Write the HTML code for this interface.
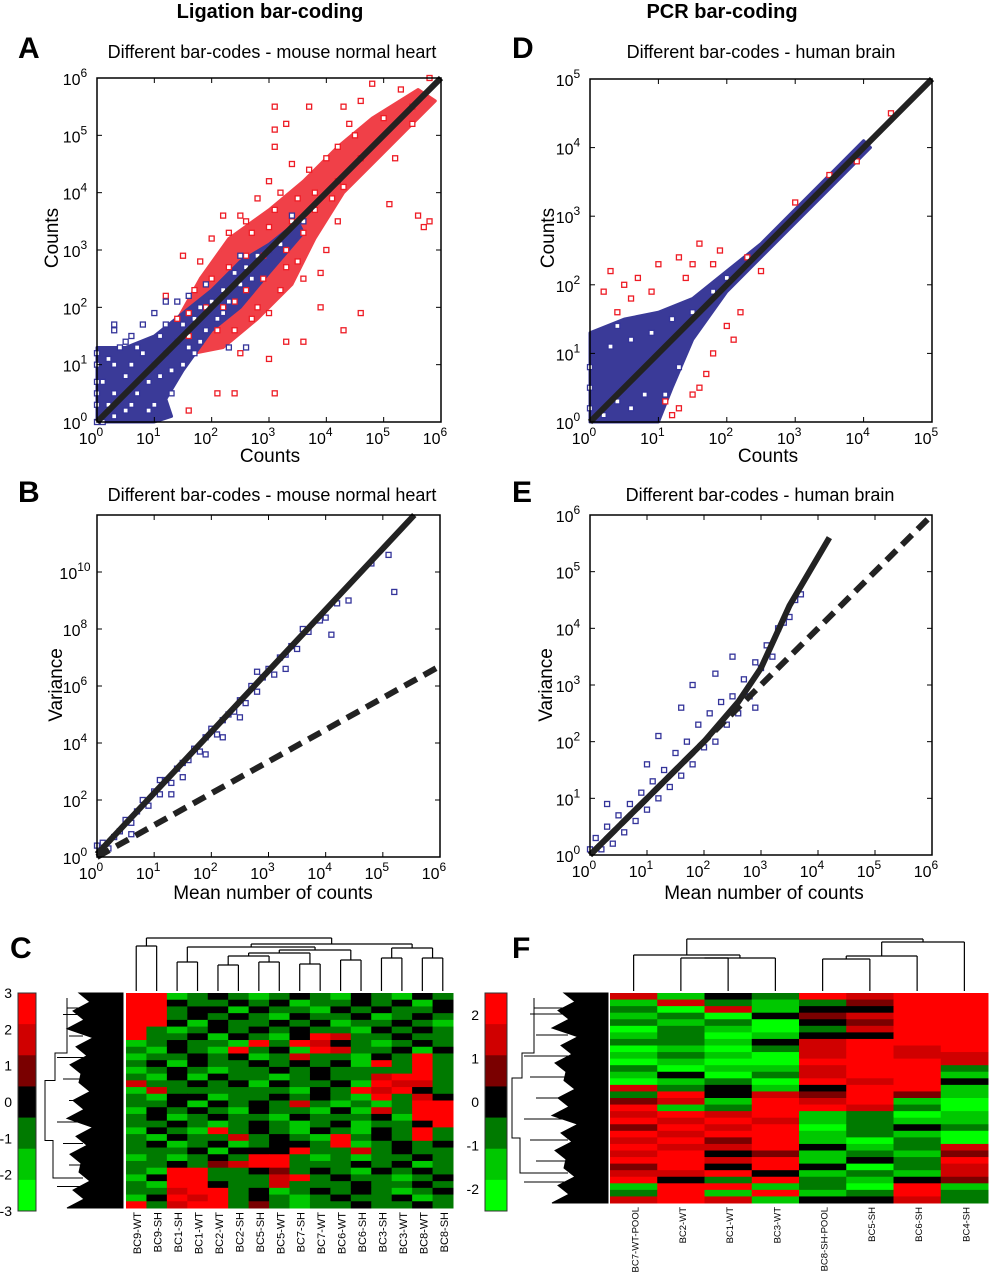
<!DOCTYPE html>
<html><head><meta charset="utf-8"><style>
html,body{margin:0;padding:0;background:#fff;}
svg{display:block;font-family:"Liberation Sans",sans-serif;}
</style></head><body>
<svg id="fig" width="989" height="1280" viewBox="0 0 989 1280" xmlns="http://www.w3.org/2000/svg">
<text x="270" y="18" font-size="20" font-weight="bold" text-anchor="middle">Ligation bar-coding</text>
<text x="722" y="18" font-size="20" font-weight="bold" text-anchor="middle">PCR bar-coding</text>
<text x="18" y="58" font-size="30" font-weight="bold">A</text>
<text x="512" y="58" font-size="30" font-weight="bold">D</text>
<text x="18" y="502" font-size="30" font-weight="bold">B</text>
<text x="512" y="502" font-size="30" font-weight="bold">E</text>
<text x="10" y="958" font-size="30" font-weight="bold">C</text>
<text x="512" y="958" font-size="30" font-weight="bold">F</text>
<text x="272" y="58" font-size="18" text-anchor="middle">Different bar-codes - mouse normal heart</text>
<text x="761" y="58" font-size="18" text-anchor="middle">Different bar-codes - human brain</text>
<text x="272" y="501" font-size="18" text-anchor="middle">Different bar-codes - mouse normal heart</text>
<text x="760" y="501" font-size="18" text-anchor="middle">Different bar-codes - human brain</text>
<text x="270" y="462" font-size="19" text-anchor="middle">Counts</text>
<text x="768" y="462" font-size="19" text-anchor="middle">Counts</text>
<text x="58" y="238" font-size="19" text-anchor="middle" transform="rotate(-90 58 238)">Counts</text>
<text x="554" y="238" font-size="19" text-anchor="middle" transform="rotate(-90 554 238)">Counts</text>
<text x="273" y="899" font-size="19" text-anchor="middle">Mean number of counts</text>
<text x="764" y="899" font-size="19" text-anchor="middle">Mean number of counts</text>
<text x="62" y="685" font-size="19" text-anchor="middle" transform="rotate(-90 62 685)">Variance</text>
<text x="552" y="685" font-size="19" text-anchor="middle" transform="rotate(-90 552 685)">Variance</text>
</svg>
<script>
// ---------- data ----------
const redHullA=[[1.3,1.6],[1.8,2.5],[2.3,3.2],[3,3.7],[3.6,4.2],[4.2,4.8],[4.8,5.3],[5.6,5.8],[5.9,5.6],[5,4.7],[4.3,4],[3.8,3.2],[3.4,2.4],[2.8,1.8],[2.2,1.3],[1.7,1.2]];
const blueHullA=[[0,0],[0,1.3],[0.5,1.3],[1,1.5],[1.5,1.9],[2,2.3],[2.5,2.8],[3,3.1],[3.5,3.5],[3.6,3.3],[3,2.6],[2.5,2],[2,1.6],[1.5,0.9],[1.2,0.4],[1.3,0.1],[1,0]];
const redA=[[2.3,3.3],[2.5,3.6],[2.8,3.9],[3,4.2],[3.2,4],[2.6,2.9],[2,3.2],[1.8,2.8],[1.5,2.9],[1.9,2.4],[2.2,2],[2.4,1.6],[2.7,1.8],[3,1.9],[3.2,2.3],[3.5,2.8],[3.6,3.3],[3.8,4],[4,4.6],[4.2,4.8],[4.4,5.2],[4.6,5.6],[4.8,5.9],[5.3,5.8],[5.5,5.5],[5.8,6],[5.2,4.6],[5.1,3.8],[5.8,3.5],[5.7,3.4],[5.6,3.6],[4,3],[4.2,3.5],[3.3,2.7],[2.9,2.5],[2.6,2.3],[2.1,1.6],[1.6,1.9],[1.2,2.2],[1.4,1.8],[3,3.4],[2.3,2.7],[3.7,4.4],[4.6,4.6],[4.3,4.1],[3.4,4.5],[3.1,3.7],[2.7,3.3],[1.7,2.3],[2.8,2],[3.9,2.6],[4.5,5],[5.5,5.2],[5,5.3],[3.5,3.9],[2,2.5],[1.6,1.5],[2.4,2.1],[3.3,3],[3.8,3.7],[3.1,5.5],[3.3,5.2],[3.7,5.5],[4.3,5.5],[4.2,4.2],[3.1,5.1],[3.1,4.8],[2.1,0.5],[1.6,0.2],[2.4,0.5],[3.1,0.5],[4.3,1.6],[4.6,1.9],[3.6,1.4],[3.9,2],[2.2,3.6],[2.6,3.5],[3.4,3.5],[2.9,2.9],[3.6,2.5],[4.1,3.9],[1.9,2],[2.5,1.2],[3,1.1],[3.3,1.4]];
const blueA=[[0,0],[0,0.3],[0,0.5],[0,0.7],[0,1],[0,1.2],[0.1,0],[0.2,0.3],[0.3,0.5],[0.1,0.7],[0.3,1],[0.5,0.2],[0.5,0.8],[0.6,1],[0.7,0.5],[0.8,1.2],[0.9,0.7],[1,1],[1,0.3],[1.1,1.5],[1.2,1.2],[1.3,0.9],[1.4,1.4],[1.5,1.7],[1.6,1.3],[1.7,1.8],[1.8,2],[1.9,1.6],[2,2.1],[2.1,1.8],[2.2,2.3],[2.3,2.1],[2.4,2.6],[2.5,2.4],[2.6,2.7],[2.8,2.9],[3,3],[3.2,3.1],[0.4,1.3],[0.6,1.5],[0.8,1.7],[1,1.9],[1.2,2.1],[0.2,1.1],[0.9,0.2],[1.3,0.5],[1.5,1],[1.7,1.2],[0.5,1.4],[1.1,0.8],[0.7,1.3],[1.4,2.1],[0.3,0.1],[0.6,0.3],[1.2,1.7],[1.6,2.2],[1.9,2.4],[2.2,1.9],[2.5,2.9],[2.7,2.5],[1.8,1.4],[3.4,3.6],[3.6,3.5],[0.3,1.6],[0.3,1.7],[2.3,1.3],[2.6,1.3]];
const lineA=[[0,0],[6,6]];

const redD=[[0.3,2.2],[0.5,2],[0.7,2.1],[1,2.3],[1.3,2.4],[1.6,2.6],[1.9,2.5],[0.6,1.8],[1.1,0.3],[1.3,0.2],[1.5,0.4],[1.7,0.7],[1.8,1],[2,1.4],[2.2,1.6],[0.9,1.9],[1.4,2.1],[0.4,1.6],[2.5,2.2],[3,3.2],[3.5,3.6],[3.9,3.8],[4.4,4.5],[1.2,0.1],[1.6,0.5],[0.2,1.9],[1.5,2.3],[1.8,2.3],[2.3,2.4],[2.1,1.2]];
const blueHullD=[[0,0],[0,1.3],[0.5,1.5],[1,1.6],[1.5,1.8],[2,2.2],[2.5,2.6],[3,3.1],[3.5,3.6],[4,4.1],[4.1,4],[3.5,3.4],[3,2.9],[2.5,2.4],[2,1.9],[1.5,1.2],[1.2,0.5],[1,0]];
const blueD=[[0,0.2],[0,0.5],[0,0.8],[0.2,0.1],[0.4,0.3],[0.6,0.2],[0.8,0.4],[0.3,1.1],[0.6,1.2],[0.9,1.3],[1.2,1.5],[1.5,1.6],[1.8,1.9],[2,2.1],[2.3,2.3],[2.6,2.6],[3,3],[3.3,3.3],[3.7,3.7],[1.3,0.8],[1.1,0.4],[0.4,1.4]];
const lineD=[[0,0],[5,5]];

const ptsB=[[0,0.4],[0.05,0.2],[0.1,0.5],[0.2,0.3],[0.3,0.7],[0.4,0.9],[0.5,1.3],[0.6,1.2],[0.7,1.6],[0.8,2],[0.9,1.8],[1,2.3],[1.1,2.2],[1.2,2.7],[1.3,2.6],[1.4,3.1],[1.5,3.3],[1.6,3.4],[1.7,3.8],[1.8,3.7],[1.9,4.2],[2,4.5],[2.1,4.3],[2.2,4.8],[2.3,5],[2.4,5.1],[2.5,5.5],[2.6,5.4],[2.7,6],[2.8,5.8],[2.9,6.3],[3,6.6],[3.1,6.4],[3.2,7],[3.3,7.1],[3.4,7.4],[3.5,7.3],[3.7,7.9],[3.9,8.3],[4,8.4],[4.2,8.9],[4.4,9],[4.8,10.3],[5.1,10.6],[5.2,9.3],[1.5,2.8],[2.2,4.2],[2.8,6.5],[1.1,2.7],[0.6,0.8],[3.6,8],[2.5,4.9],[1.9,3.6],[1.3,2.2],[4.1,7.8],[3.3,6.6]];
const lineB=[[0,0.1],[5.55,12]];
const dashB=[[0,0],[6,6.7]];

const ptsE=[[0,0.1],[0.1,0.3],[0.2,0.1],[0.3,0.5],[0.4,0.2],[0.5,0.7],[0.6,0.4],[0.7,0.9],[0.8,0.6],[0.9,1.1],[1,0.8],[1.1,1.3],[1.2,1],[1.3,1.5],[1.4,1.2],[1.5,1.8],[1.6,1.4],[1.7,2],[1.8,1.6],[1.9,2.3],[2,1.9],[2.1,2.5],[2.2,2],[2.3,2.7],[2.4,2.3],[2.5,2.8],[2.6,2.5],[2.7,3.1],[2.8,2.8],[2.9,3.4],[3,3.3],[3.1,3.7],[3.2,3.5],[3.3,4],[3.4,4.1],[3.5,4.2],[3.6,4.5],[1.8,3],[2.2,3.2],[1.2,2.1],[2.5,3.5],[1.6,2.6],[3.7,4.6],[2.9,2.6],[0.3,0.9],[1,1.6]];
const lineE=[[0,0],[1,1],[2,2],[2.6,2.7],[3,3.3],[3.5,4.4],[4.2,5.6]];
const dashE=[[0,0],[6,6]];

const colsC=["BC9-WT","BC9-SH","BC1-SH","BC1-WT","BC2-WT","BC2-SH","BC5-SH","BC5-WT","BC7-SH","BC7-WT","BC6-WT","BC6-SH","BC3-SH","BC3-WT","BC8-WT","BC8-SH"];
const rowsC=["6612321232132132","6632232312232313","6623313221323223","6623232132231232","6631322323122321","6212323232213232","6223132136522322","1232216265321232","2132162316522313","1223231252213262","2313223232316262","1232122323222262","2131322123225662","5223231322316552","1522222213265632","2133122323216253","2231323252121266","1323213221315266","2312322132223166","2232123212312236","1321623213213262","2132252321623262","2312312332612323","2223133362252322","1212326621212232","2232456622232312","2166223423213232","1366222562322123","2166322522232232","2256623123232123","1365623212322312","6256624212232232"];
const mergesC=[[0,1,946],[2,3,962],[4,5,965],[6,7,962],[8,9,964],[10,11,960],[12,13,958],[14,15,958],[18,19,956],[24,20,953],[25,21,950],[17,26,947],[22,23,948],[27,28,944],[16,29,938]];

const colsF=["BC7-WT-POOL","BC2-WT","BC1-WT","BC3-WT","BC8-SH-POOL","BC5-SH","BC6-SH","BC4-SH"];
const rowsF=["51326566","15212466","20513366","12034566","21203466","02102566","12013366","22135666","01025656","12105655","01006665","20115662","13025661","01206563","52313661","26354641","45165610","61266520","56561201","65651211","46560232","65661210","56461020","65563125","56341214","66561326","46363025","55631215","63262134","16612061","26161262","56513352"];
const mergesF=[[1,2,958],[8,3,958],[0,9,955],[4,5,959],[11,6,956],[12,7,942],[10,13,939]];

const ticksC=[3,2,1,0,-1,-2,-3];
const ticksF=[2,1,0,-1,-2];

// ---------- drawing ----------
const NS="http://www.w3.org/2000/svg";
const svg=document.getElementById('fig');
function mk(tag,attrs,parent){const e=document.createElementNS(NS,tag);for(const k in attrs)e.setAttribute(k,attrs[k]);(parent||svg).appendChild(e);return e;}
function panel(p){
  p.sx=v=>p.x0+v/p.xd*p.w;
  p.sy=v=>p.y0+p.h-(v-p.ymin)/(p.yd-p.ymin)*p.h;
  return p;
}
function frame(p,name,xt,yt){
  const g=mk('g',{});
  
  
  mk('rect',{x:p.x0,y:p.y0,width:p.w,height:p.h,fill:'none',stroke:'#000','stroke-width':1.5},g);
  xt.forEach(t=>{
    const x=p.sx(t);
    mk('line',{x1:x,y1:p.y0+p.h,x2:x,y2:p.y0+p.h-5,stroke:'#000'},g);
    mk('line',{x1:x,y1:p.y0,x2:x,y2:p.y0+5,stroke:'#000'},g);
    const tx=mk('text',{x:x-6,y:p.y0+p.h+22,'font-size':16,'text-anchor':'middle'},g);
    
    
    tx.textContent='10';
    const s=mk('tspan',{dy:-8,'font-size':12},tx);s.textContent=t;
  });
  yt.forEach(t=>{
    const y=p.sy(t);
    mk('line',{x1:p.x0,y1:y,x2:p.x0+5,y2:y,stroke:'#000'},g);
    mk('line',{x1:p.x0+p.w,y1:y,x2:p.x0+p.w-5,y2:y,stroke:'#000'},g);
    const tx=mk('text',{x:p.x0-22,y:y+7,'font-size':16,'text-anchor':'middle'},g);
    
    
    tx.textContent='10';
    const s=mk('tspan',{dy:-8,'font-size':12},tx);s.textContent=t;
  });
}
function hull(p,arr,color,name){
  const e=mk('polygon',{points:arr.map(d=>p.sx(d[0])+','+p.sy(d[1])).join(' '),fill:color,stroke:color,'stroke-width':3,'stroke-linejoin':'round'});
  
  
}
function pts(p,arr,color,name){
  const g=mk('g',{});
  
  
  arr.forEach(d=>{mk('rect',{x:p.sx(d[0])-2.5,y:p.sy(d[1])-2.5,width:5,height:5,fill:'#fff',stroke:color,'stroke-width':1.3},g);});
}
function line(p,arr,name,dash){
  const e=mk('polyline',{points:arr.map(d=>p.sx(d[0])+','+p.sy(d[1])).join(' '),fill:'none',stroke:'#222','stroke-width':6,'stroke-dasharray':dash||'none','stroke-linejoin':'round'});
  
  
}
const RED='#ee1c25',BLUE='#34349a';
const A=panel({x0:97,y0:78,w:344,h:344,xd:6,yd:6,ymin:0});
hull(A,redHullA,'#f04048','red-cloud-a');hull(A,blueHullA,'#3a3a98','blue-cloud-a');
pts(A,redA,RED,'red-points-a');pts(A,blueA,BLUE,'blue-points-a');line(A,lineA,'identity-line-a');
frame(A,'panel-a',[0,1,2,3,4,5,6],[0,1,2,3,4,5,6]);
const D=panel({x0:590,y0:79,w:342,h:343,xd:5,yd:5,ymin:0});
hull(D,blueHullD,'#3a3a98','blue-cloud-d');
pts(D,redD,RED,'red-points-d');pts(D,blueD,BLUE,'blue-points-d');line(D,lineD,'identity-line-d');
frame(D,'panel-d',[0,1,2,3,4,5],[0,1,2,3,4,5]);
const B=panel({x0:97,y0:515,w:343,h:342,xd:6,yd:12,ymin:0});
pts(B,ptsB,BLUE,'blue-points-b');line(B,lineB,'fit-line-b');line(B,dashB,'poisson-line-b','14,8');
frame(B,'panel-b',[0,1,2,3,4,5,6],[0,2,4,6,8,10]);
const E=panel({x0:590,y0:515,w:342,h:340,xd:6,yd:6,ymin:0});
pts(E,ptsE,BLUE,'blue-points-e');line(E,lineE,'fit-line-e');line(E,dashE,'poisson-line-e','14,8');
frame(E,'panel-e',[0,1,2,3,4,5,6],[0,1,2,3,4,5,6]);

// heatmaps
const cmap={0:'#00ff00',1:'#00c800',2:'#007a00',3:'#000000',4:'#7a0000',5:'#d00000',6:'#ff0000'};
function heat(x0,y0,w,h,cols,rows,name,labY,mergesArr,fs){
  const g=mk('g',{});
  
  
  const cw=w/cols.length,rh=h/rows.length;
  rows.forEach((r,i)=>{for(let j=0;j<cols.length;j++){
    mk('rect',{x:x0+j*cw,y:y0+i*rh,width:cw+0.5,height:rh+0.5,fill:cmap[r[j]]},g);
  }});
  cols.forEach((c,j)=>{
    const x=x0+(j+0.5)*cw+5,y=labY;
    const t=mk('text',{x:x,y:y,'font-size':fs,'text-anchor':'end',transform:`rotate(-90 ${x} ${y})`});
    
    
    t.textContent=c;
  });
  const dg=mk('g',{stroke:'#000','stroke-width':1.2,fill:'none'});
  
  
  const nx=[],ny=[];
  cols.forEach((c,j)=>{nx[j]=x0+(j+0.5)*cw;ny[j]=y0-2;});
  mergesArr.forEach((m,k)=>{
    const id=cols.length+k,a=m[0],b=m[1],y=m[2];
    mk('line',{x1:nx[a],y1:ny[a],x2:nx[a],y2:y},dg);
    mk('line',{x1:nx[b],y1:ny[b],x2:nx[b],y2:y},dg);
    mk('line',{x1:nx[a],y1:y,x2:nx[b],y2:y},dg);
    nx[id]=(nx[a]+nx[b])/2;ny[id]=y;
  });
}
function leftDend(x1,x2,y0,y1,name){
  const g=mk('g',{stroke:'#000','stroke-width':1,fill:'none'});
  
  
  const h=y1-y0;
  let pts=`${x2},${y0} `;
  const n=24;
  for(let i=0;i<=n;i++){const yy=y0+i*h/n;const off=(i%2?30:44)+(i%5)*3;pts+=`${x2-off},${yy} `;}
  pts+=`${x2},${y1}`;
  mk('polygon',{points:pts,fill:'#000'},g);
  const m=(y0+y1)/2;
  mk('polyline',{points:`${x2-40},${y0+15} ${x1+22},${y0+15} ${x1+22},${y0+5} ${x1+22},${y0+60} ${x1+10},${y0+60} ${x1+10},${m-20} ${x1},${m-20} ${x1},${m+40} ${x1+8},${m+40} ${x1+8},${y1-30} ${x2-40},${y1-30}`},g);
  for(let i=1;i<10;i++){const yy=y0+i*h/10;mk('polyline',{points:`${x1+12+(i%3)*6},${yy} ${x2-40},${yy}`},g);}
}
function cbar(x,y,w,h,ticks,vmax,lx,anchor,name){
  const g=mk('g',{});
  
  
  const n=7;
  for(let i=0;i<n;i++){mk('rect',{x:x,y:y+i*h/n,width:w,height:h/n+0.5,fill:cmap[6-i]},g);}
  mk('rect',{x:x,y:y,width:w,height:h,fill:'none',stroke:'#333'},g);
  ticks.forEach(t=>{
    const ty=y+(vmax-t)/(2*vmax)*h;
    const tx=mk('text',{x:lx,y:ty+5,'font-size':14,'text-anchor':anchor},g);
    
    
    tx.textContent=t;
  });
}
heat(126,993,327,215,colsC,rowsC,'heatmap-c',1212,mergesC,11);
leftDend(45,123,993,1208,'row-dendrogram-c');
cbar(18,993,18,218,ticksC,3,12,'end','colorbar-c');
heat(610,993,378,210,colsF,rowsF,'heatmap-f',1207,mergesF,9.5);
leftDend(512,608,993,1203,'row-dendrogram-f');
cbar(485,993,22,218,ticksF,2.5,479,'end','colorbar-f');
</script>
</body></html>
